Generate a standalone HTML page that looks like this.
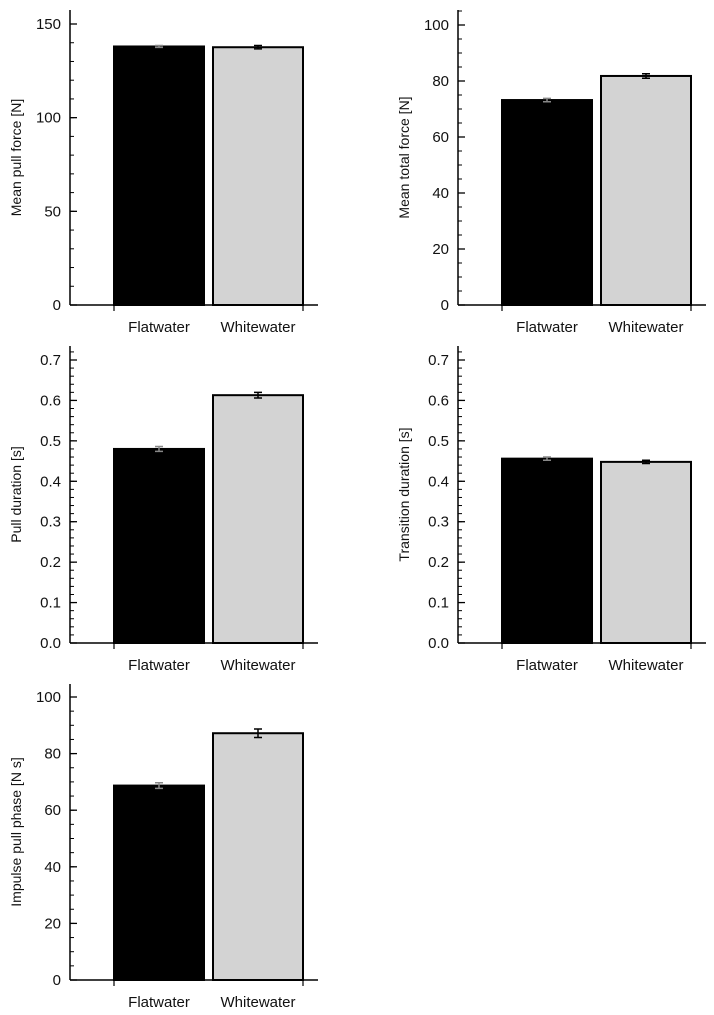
<!DOCTYPE html>
<html><head><meta charset="utf-8"><style>
html,body{margin:0;padding:0;background:#fff;}
svg{display:block;font-family:"Liberation Sans",Arial,sans-serif;}
</style></head><body>
<svg id="fig" width="714" height="1015" viewBox="0 0 714 1015" xmlns="http://www.w3.org/2000/svg"></svg>
<script>
const categories = ["Flatwater","Whitewater"];
const pullForce = [138, 137.6];
const pullForceErr = [0.5, 0.9];
const totalForce = [73.2, 81.8];
const totalForceErr = [0.6, 0.8];
const pullDuration = [0.480, 0.613];
const pullDurationErr = [0.006, 0.007];
const transDuration = [0.456, 0.448];
const transDurationErr = [0.004, 0.004];
const impulse = [68.7, 87.2];
const impulseErr = [1.0, 1.5];
const ticksForce = [0, 50, 100, 150];
const ticksTotal = [0, 20, 40, 60, 80, 100];
const ticksDur = [0, 0.1, 0.2, 0.3, 0.4, 0.5, 0.6, 0.7];
const ticksImp = [0, 20, 40, 60, 80, 100];

const NS = "http://www.w3.org/2000/svg";
const svg = document.getElementById("fig");
function mk(tag, attrs, parent){const e=document.createElementNS(NS,tag);for(const k in attrs)e.setAttribute(k,attrs[k]);(parent||svg).appendChild(e);return e;}

const panels = [
 {name:"mean-pull-force", title:"Mean pull force [N]", vals:pullForce, errs:pullForceErr, ticks:ticksForce, minor:10, dec:0, max:150, ax:70, top:10, y0:305, yMax:24, lx:16},
 {name:"mean-total-force", title:"Mean total force [N]", vals:totalForce, errs:totalForceErr, ticks:ticksTotal, minor:5, dec:0, max:100, ax:458, top:10, y0:305, yMax:25, lx:404},
 {name:"pull-duration", title:"Pull duration [s]", vals:pullDuration, errs:pullDurationErr, ticks:ticksDur, minor:0.02, dec:1, max:0.7, ax:70, top:346, y0:643, yMax:360, lx:16},
 {name:"transition-duration", title:"Transition duration [s]", vals:transDuration, errs:transDurationErr, ticks:ticksDur, minor:0.02, dec:1, max:0.7, ax:458, top:346, y0:643, yMax:360, lx:404},
 {name:"impulse-pull-phase", title:"Impulse pull phase [N s]", vals:impulse, errs:impulseErr, ticks:ticksImp, minor:5, dec:0, max:100, ax:70, top:684, y0:980, yMax:697, lx:16}
];

panels.forEach(p=>{
  const g = mk("g",{});
  
  
  const y = v => p.y0 - (v/p.max)*(p.y0-p.yMax);
  const barX = [p.ax+44, p.ax+143];
  const bw = 90;
  // bars
  p.vals.forEach((v,i)=>{
    const r = mk("rect",{x:barX[i],y:y(v),width:bw,height:p.y0-y(v),fill:i?"#d3d3d3":"#000",stroke:"#000","stroke-width":2},g);
    
    
    const cx = barX[i]+bw/2, e=p.errs[i];
    const eb = mk("path",{d:`M${cx},${y(v+e)}V${y(v-e)}M${cx-4},${y(v+e)}H${cx+4}M${cx-4},${y(v-e)}H${cx+4}`,stroke:i?"#000":"#888","stroke-width":1.5,fill:"none"},g);
    
    
    const t = mk("text",{x:cx,y:p.y0+27,"text-anchor":"middle","font-size":15,fill:"#111"},g);
    t.textContent = categories[i];
    
    
    mk("line",{x1:i?barX[i]+bw:barX[i],x2:i?barX[i]+bw:barX[i],y1:p.y0,y2:p.y0+6,stroke:"#000","stroke-width":1.2},g);
  });
  // axes
  const ya = mk("line",{x1:p.ax,x2:p.ax,y1:p.top,y2:p.y0,stroke:"#000","stroke-width":1.5},g);
  
  
  const xa = mk("line",{x1:p.ax,x2:p.ax+248,y1:p.y0,y2:p.y0,stroke:"#000","stroke-width":1.5},g);
  
  
  // minor ticks
  const top = p.max + (p.yMax-p.top)/(p.y0-p.yMax)*p.max;
  for(let k=0;k*p.minor<=top+1e-9;k++){
    const v=k*p.minor;
    mk("line",{x1:p.ax,x2:p.ax+4,y1:y(v),y2:y(v),stroke:"#000","stroke-width":1},g);
  }
  p.ticks.forEach(v=>{
    mk("line",{x1:p.ax,x2:p.ax+7,y1:y(v),y2:y(v),stroke:"#000","stroke-width":1.3},g);
    const t = mk("text",{x:p.ax-9,y:y(v)+5,"text-anchor":"end","font-size":15,fill:"#111"},g);
    t.textContent = v.toFixed(p.dec);
    
    
  });
  const cy = (p.top+p.y0)/2;
  const lab = mk("text",{x:p.lx,y:cy,"text-anchor":"middle","font-size":14,fill:"#111",transform:`rotate(-90 ${p.lx} ${cy})`,dy:5},g);
  lab.textContent = p.title;
  
  
});
</script>
</body></html>
